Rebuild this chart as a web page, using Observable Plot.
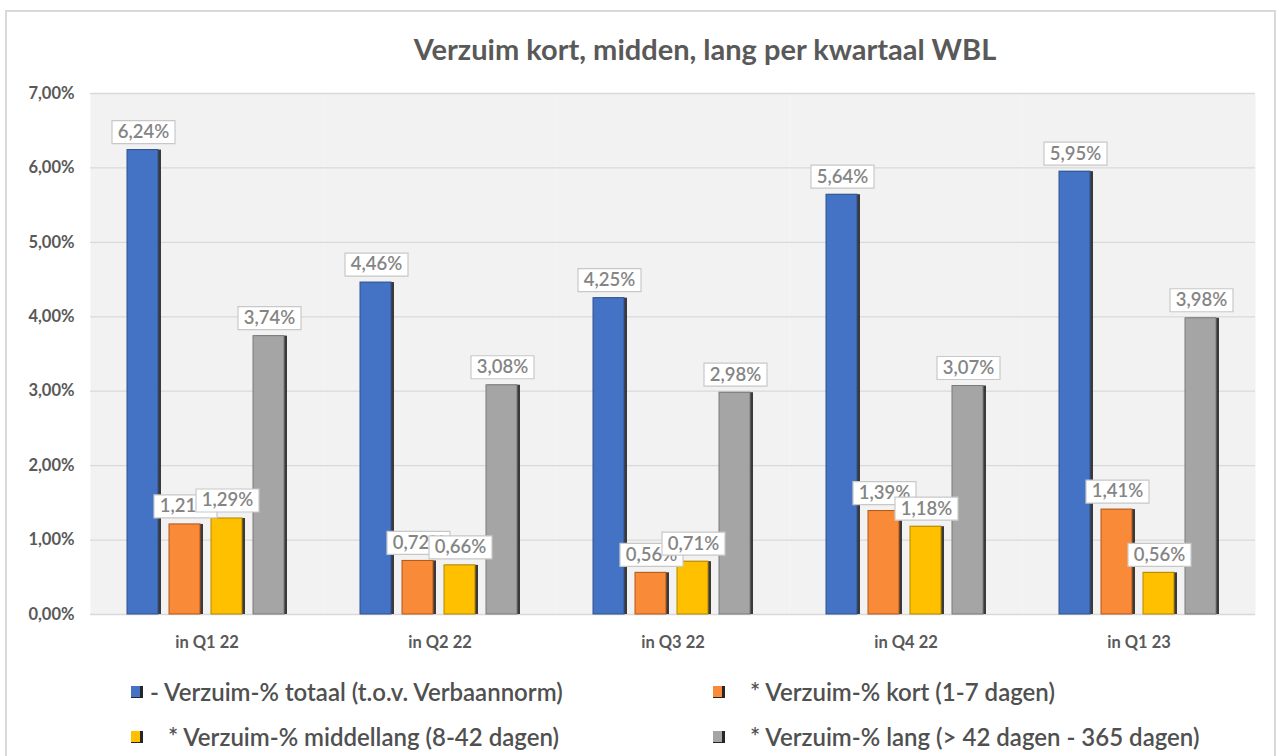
<!DOCTYPE html>
<html><head><meta charset="utf-8">
<script src="https://cdn.jsdelivr.net/npm/d3@7"></script>
<script src="https://cdn.jsdelivr.net/npm/@observablehq/plot@0.6"></script>
<style>
body{margin:0;background:#fff;font-family:Lato,"Open Sans",sans-serif;}
#wrap{position:relative;width:1279px;height:756px;overflow:hidden;background:#fff;}
#frame{position:absolute;left:5px;top:10px;width:1271px;height:770px;border:2px solid #d9d9d9;box-sizing:border-box;}
#title{position:absolute;top:31px;left:0;width:1410px;text-align:center;font-size:29px;font-weight:bold;color:#595959;line-height:36px;}
#chart{position:absolute;left:0;top:0;}
.leg{position:absolute;font-size:24px;font-weight:600;color:#505050;white-space:pre;line-height:28px;}
.sw{position:absolute;width:9px;height:11px;border-right:3px solid #262626;border-bottom:1px solid #262626;}
</style></head>
<body><div id="wrap">
<div id="frame"></div>
<div id="chart"></div>
<div id="title">Verzuim kort, midden, lang per kwartaal WBL</div>
<div id="legend"></div>
</div>
<script>
const quarters = ["in Q1 22", "in Q2 22", "in Q3 22", "in Q4 22", "in Q1 23"];
const series = ["totaal", "kort", "middellang", "lang"];
const legendLabels = [
  "- Verzuim-% totaal (t.o.v. Verbaannorm)",
  "* Verzuim-% kort (1-7 dagen)",
  "   * Verzuim-% middellang (8-42 dagen)",
  "* Verzuim-% lang (> 42 dagen - 365 dagen)"
];
const totaal = [6.24, 4.46, 4.25, 5.64, 5.95];
const kort = [1.21, 0.72, 0.56, 1.39, 1.41];
const middellang = [1.29, 0.66, 0.71, 1.18, 0.56];
const lang = [3.74, 3.08, 2.98, 3.07, 3.98];
const colors = ["#4472c4", "#f98a37", "#ffc000", "#a5a5a5"];
const strokes = ["#2f528f", "#b3561a", "#b38600", "#7a7a7a"];
const yTicks = [0, 1, 2, 3, 4, 5, 6, 7];

const valuesBySeries = [totaal, kort, middellang, lang];
const rows = quarters.flatMap((q, i) => series.map((s, j) => ({quarter: q, series: s, value: valuesBySeries[j][i]})));

const fmt = v => v.toFixed(2).replace(".", ",") + "%";
const boxSymbol = {draw(ctx) { ctx.rect(-31.5, -11.5, 63, 23); }};

const marks = [
  Plot.frame({fill: "#f2f2f2", stroke: null}),
  Plot.ruleY(yTicks, {stroke: "#d9d9d9", strokeWidth: 1.3})
];
series.forEach((s, j) => {
  marks.push(Plot.barY(rows, {filter: d => d.series === s, fx: "quarter", x: "series", y: "value", fill: "#1a1a1a", fillOpacity: 0.85, dx: 2}));
  marks.push(Plot.barY(rows, {filter: d => d.series === s, fx: "quarter", x: "series", y: "value", fill: colors[j], stroke: strokes[j], strokeWidth: 1, insetRight: 1}));
});
series.forEach((s, j) => {
  marks.push(Plot.dot(rows, {filter: d => d.series === s, fx: "quarter", x: "series", y: "value", symbol: boxSymbol, r: 5, fill: "white", stroke: "#c8c8c8", strokeWidth: 1.2, dy: -18}));
  marks.push(Plot.text(rows, {filter: d => d.series === s, fx: "quarter", x: "series", y: "value", text: d => fmt(d.value), dy: -18, fill: "#858585", fontSize: 18.5, fontWeight: 600, lineAnchor: "middle"}));
});

const chart = Plot.plot({
  width: 1279,
  height: 665,
  marginLeft: 89,
  marginRight: 24,
  marginTop: 93,
  marginBottom: 51,
  style: {fontFamily: "Lato, 'Open Sans', sans-serif", fontSize: "16.5px", fontWeight: "bold", color: "#595959", background: "transparent"},
  fx: {domain: quarters, padding: 0, label: null, tickSize: 0, tickPadding: 22},
  x: {domain: series, paddingInner: 0.233, paddingOuter: 0.828, axis: null},
  y: {domain: [0, 7], ticks: yTicks, tickFormat: fmt, tickSize: 0, tickPadding: 16, label: null},
  marks
});
document.getElementById("chart").appendChild(chart);

const legendPos = [[131, 678], [713, 678], [131, 723], [713, 723]];
const legendTextX = [150, 750, 150, 750];
const legend = document.getElementById("legend");
series.forEach((s, j) => {
  const sw = document.createElement("div");
  sw.className = "sw";
  sw.style.left = legendPos[j][0] + "px";
  sw.style.top = (legendPos[j][1] + 8) + "px";
  sw.style.background = colors[j];
  legend.appendChild(sw);
  const t = document.createElement("div");
  t.className = "leg";
  t.style.left = legendTextX[j] + "px";
  t.style.top = legendPos[j][1] + "px";
  t.textContent = legendLabels[j];
  legend.appendChild(t);
});
</script>
</body></html>
